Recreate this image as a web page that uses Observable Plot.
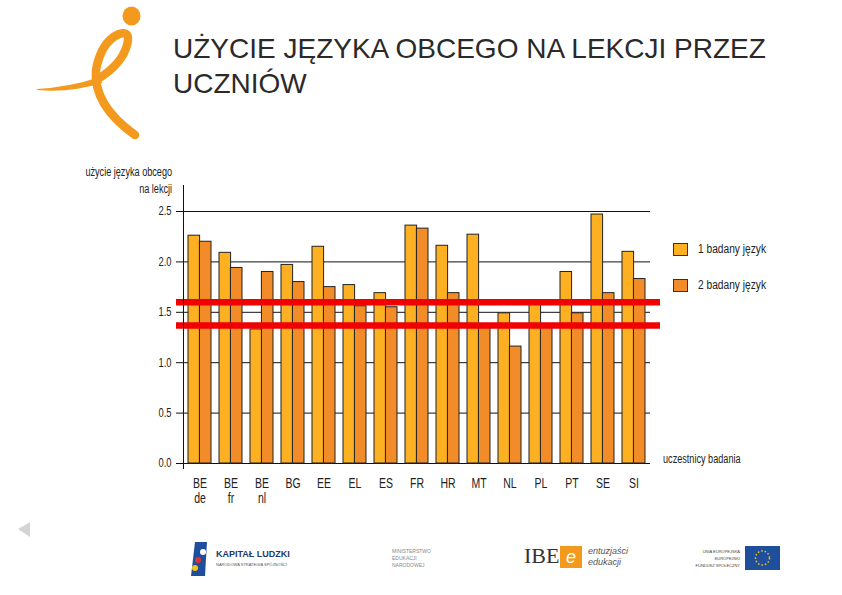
<!DOCTYPE html>
<html><head><meta charset="utf-8">
<script src="https://cdn.jsdelivr.net/npm/d3@7"></script>
<script src="https://cdn.jsdelivr.net/npm/@observablehq/plot@0.6"></script>
<style>
body{margin:0;width:842px;height:595px;position:relative;background:#fff;overflow:hidden;font-family:"Liberation Sans",Arial,sans-serif;color:#111}
.abs{position:absolute;white-space:nowrap}
#title{left:173px;top:31px;font-size:28px;line-height:35px;color:#2a2a2a}
.narrow{font-family:"Liberation Sans","DejaVu Sans",sans-serif;color:#222}
#ylab{right:670px;top:164px;font-size:12px;line-height:17px;text-align:right;transform:scaleX(0.76);transform-origin:right top}
#xlab{left:663px;top:452px;font-size:12px;transform:scaleX(0.76);transform-origin:left top}
.leg{font-size:12px;transform:scaleX(0.85);transform-origin:left top}
.sw{position:absolute;width:13px;height:11px;border:1px solid #333}
#chart{position:absolute;left:0;top:160px}
</style></head>
<body>
<svg class="abs" style="left:0;top:0" width="170" height="150">
  <ellipse cx="131.5" cy="16" rx="9" ry="9.5" fill="#F39A1E"/>
  <path d="M37,89 Q70,87 100,77 L102,83 Q70,93 37,90 Z" fill="#F39A1E"/>
  <path d="M98,79 Q122,64 127,45 Q131,30 119,34 Q101,42 96,70 Q93,105 135,135" fill="none" stroke="#F39A1E" stroke-width="8.5" stroke-linecap="round"/>
</svg>
<div id="title" class="abs">UŻYCIE JĘZYKA OBCEGO NA LEKCJI PRZEZ<br>UCZNIÓW</div>
<div id="ylab" class="abs narrow">użycie języka obcego<br>na lekcji</div>
<div id="chart"></div>
<div id="legend"></div>
<div id="xlab" class="abs narrow">uczestnicy badania</div>
<svg class="abs" style="left:14px;top:518px" width="20" height="22"><path d="M4,11 L16,4 L16,19 Z" fill="#d4d4d4"/></svg>
<!-- footer logos -->
<svg class="abs" style="left:185px;top:538px" width="40" height="40">
  <path d="M10,4 L22,4 L20,38 L6,38 Z" fill="#1f4e9c"/>
  <circle cx="18" cy="14" r="3" fill="#fff"/>
  <circle cx="13" cy="22" r="3" fill="#e03030"/>
  <circle cx="10" cy="30" r="3" fill="#f5c518"/>
</svg>
<div class="abs" style="left:216px;top:549px;font-size:9px;font-weight:bold;color:#1f3a6e">KAPITAŁ LUDZKI</div>
<div class="abs" style="left:216px;top:562px;font-size:4px;color:#555">NARODOWA STRATEGIA SPÓJNOŚCI</div>
<div class="abs" style="left:392px;top:548px;font-size:5px;line-height:7px;color:#888">MINISTERSTWO<br>EDUKACJI<br>NARODOWEJ</div>
<div class="abs" style="left:524px;top:543px;font-size:22px;font-family:'Liberation Serif',serif;color:#333">IBE</div>
<div class="abs" style="left:560px;top:546px;width:22px;height:22px;background:#F39A1E;color:#fff;font-size:18px;text-align:center;line-height:22px;font-style:italic">e</div>
<div class="abs" style="left:588px;top:546px;font-size:9px;line-height:11px;font-style:italic;color:#555">entuzjaści<br>edukacji</div>
<div class="abs" style="left:690px;top:548px;font-size:4px;line-height:7px;color:#444;text-align:right;width:50px">UNIA EUROPEJSKA<br>EUROPEJSKI<br>FUNDUSZ SPOŁECZNY</div>
<svg class="abs" style="left:745px;top:546px" width="35" height="24"><rect width="35" height="24" fill="#1f4e9c"/><circle cx="17.5" cy="12" r="7" fill="none" stroke="#f5c518" stroke-width="1.5" stroke-dasharray="1.5 2"/></svg>
<script>
const countries = ["BE\nde","BE\nfr","BE\nnl","BG","EE","EL","ES","FR","HR","MT","NL","PL","PT","SE","SI"];
const lang1 = [2.26,2.09,1.33,1.97,2.15,1.77,1.69,2.36,2.16,2.27,1.49,1.60,1.90,2.47,2.10];
const lang2 = [2.20,1.94,1.90,1.80,1.75,1.56,1.55,2.33,1.69,1.37,1.16,1.37,1.49,1.69,1.83];
const seriesNames = ["1 badany język","2 badany język"];
const seriesColors = ["#FDB022","#F28C28"];
const yTicks = [0,0.5,1,1.5,2,2.5];
const refLines = [1.60,1.37];

const data1 = countries.map((c,i)=>({country:c, value:lang1[i]}));
const data2 = countries.map((c,i)=>({country:c, value:lang2[i]}));

const plot = Plot.plot({
  width: 842, height: 350,
  marginLeft: 183, marginRight: 192, marginTop: 51, marginBottom: 47,
  style: {fontFamily: "'Liberation Sans','DejaVu Sans',sans-serif", fontSize: "12px", color: "#222", background: "transparent", overflow: "visible"},
  x: {domain: countries, paddingInner: 0.27, paddingOuter: 0.135, axis: null},
  y: {domain: [0, 2.5], axis: null},
  marks: [
    Plot.ruleY(yTicks, {y: d => d, stroke: "#111", strokeWidth: 1, insetLeft: -7}),
    Plot.text(yTicks, {y: d => d, text: d => d.toFixed(1), frameAnchor: "left", textAnchor: "end", dx: -12, fontSize: 12}),
    Plot.barY(data1, {x: "country", y: "value", fill: seriesColors[0], stroke: "#222", strokeWidth: 1, insetRight: 11.4}),
    Plot.barY(data2, {x: "country", y: "value", fill: seriesColors[1], stroke: "#222", strokeWidth: 1, insetLeft: 11.4}),
    Plot.ruleY(refLines, {y: d => d, stroke: "#F00000", strokeWidth: 6.5, insetLeft: -7, insetRight: -10}),
    Plot.frame({anchor: "left", stroke: "#111", insetTop: -26, insetBottom: -5}),
    Plot.text(countries, {x: d => d, text: d => d, frameAnchor: "bottom", lineAnchor: "top", dy: 13, fontSize: 15, lineHeight: 1.05})
  ]
});
document.getElementById("chart").appendChild(plot);

// condense tick label glyphs horizontally (styling only)
function condense(group, s) {
  d3.select(group).selectAll("text").each(function() {
    let base = this.getAttribute("transform") || "";
    const x = this.getAttribute("x");
    if (x != null && /^-?[\d.]+$/.test(x)) {
      base += ` translate(${+x},0)`;
      this.removeAttribute("x");
    }
    this.setAttribute("transform", `${base} scale(${s},1)`);
  });
}
const textGroups = plot.querySelectorAll('g[aria-label="text"]');
if (textGroups[0]) condense(textGroups[0], 0.78);
if (textGroups[1]) condense(textGroups[1], 0.7);

const legend = document.getElementById("legend");
const legTops = [243, 279];
seriesNames.forEach((n,i)=>{
  const sw = document.createElement("div");
  sw.className = "sw";
  sw.style.left = "673px"; sw.style.top = legTops[i] + "px"; sw.style.background = seriesColors[i];
  legend.appendChild(sw);
  const t = document.createElement("div");
  t.className = "abs narrow leg";
  t.style.left = "698px"; t.style.top = (legTops[i] - 1) + "px";
  t.textContent = n;
  legend.appendChild(t);
});
</script>
</body></html>
